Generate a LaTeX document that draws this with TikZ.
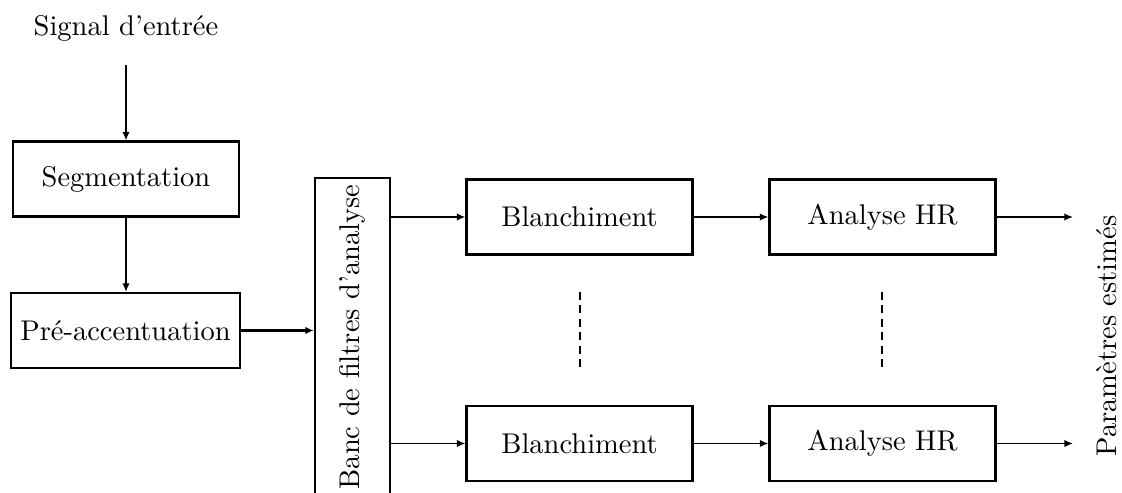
\documentclass[tikz,border=0pt]{standalone}
\usetikzlibrary{arrows.meta}
\begin{document}
\begin{tikzpicture}[x=0.3509pt,y=-0.3509pt,
  blk/.style={draw,line width=0.8pt,minimum width=79.3pt,minimum height=26.3pt,inner sep=0.3333em},
  arr/.style={line width=0.5pt,-{Latex[length=3pt,width=2.6pt]}},
  thickarr/.style={line width=0.8pt,-{Latex[length=3pt,width=2.6pt]}},
  dsh/.style={line width=0.8pt,dash pattern=on 2.8pt off 1.9pt}]
\useasboundingbox (0,0) rectangle (1122,493);
\clip (0,0) rectangle (1122,493);
\node (sig) at (126,28) {Signal d'entrée};
\coordinate (sigend) at (126,65);
\node[blk] (seg) at (126,179) {Segmentation};
\node[blk] (pre) at (125.5,330.5) {Pré-accentuation};
\node[draw,line width=0.8pt,rotate=90,minimum height=26.3pt,minimum width=116.5pt,inner sep=0pt] (bancbox) at (352.5,344) {};
\node[rotate=90,inner sep=0pt] (banc) at (352.5,337) {Banc de filtres d'analyse};
\node[blk] (bl1) at (579.5,217) {Blanchiment};
\node[blk] (al1) at (882.5,217) {Analyse HR};
\node[blk] (bl2) at (579.5,443.5) {Blanchiment};
\node[blk] (al2) at (882.5,443.5) {Analyse HR};
\coordinate (o1) at (1073,217);
\coordinate (o2) at (1073,443.5);
\node[rotate=90] (par) at (1107,336) {Paramètres estimés};
\coordinate (d1a) at (580,292); \coordinate (d1b) at (580,368);
\coordinate (d2a) at (882,292); \coordinate (d2b) at (882,368);
\draw[arr] (sigend) -- (seg.north);
\draw[arr] (seg.south) -- (seg.south |- pre.north);
\draw[thickarr] (pre.east) -- (pre.east -| bancbox.north);
\draw[arr] (bl1.west -| bancbox.south) -- (bl1.west);
\draw[arr] (bl2.west -| bancbox.south) -- (bl2.west);
\draw[arr] (bl1.east) -- (al1.west);
\draw[arr] (bl2.east) -- (al2.west);
\draw[arr] (al1.east) -- (o1);
\draw[arr] (al2.east) -- (o2);
\draw[dsh] (d1a) -- (d1b);
\draw[dsh] (d2a) -- (d2b);
\end{tikzpicture}
\end{document}
